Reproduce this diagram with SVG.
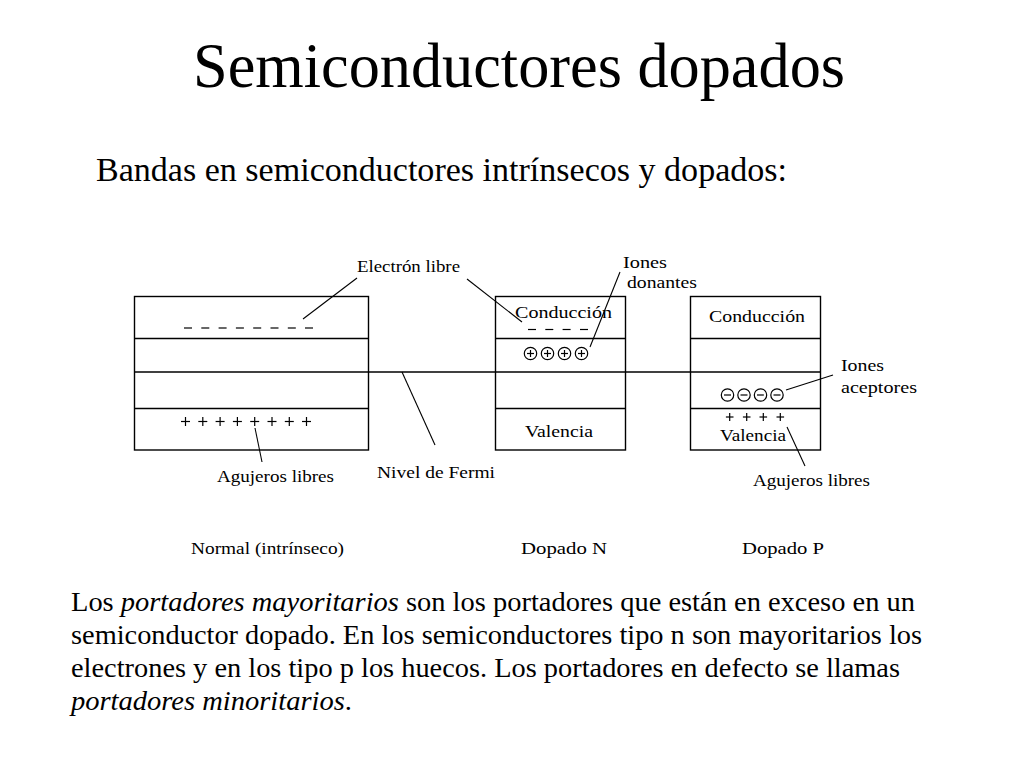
<svg xmlns="http://www.w3.org/2000/svg" width="1024" height="768" viewBox="0 0 1024 768">
<style>
  text { font-family: "Liberation Serif", "Times New Roman", serif; fill: #000; }
  .lbl { font-size: 17px; }
  .box { fill: #fff; stroke: #000; stroke-width: 1.4; }
  .ln { stroke: #000; stroke-width: 1.4; fill: none; }
  .ptr { stroke: #000; stroke-width: 1.1; fill: none; }
  .sym { stroke: #000; stroke-width: 1.2; fill: none; }
</style>
<defs>
  <g id="dash"><line x1="0" y1="0" x2="8" y2="0" class="sym"/></g>
  <g id="plus"><line x1="-4.5" y1="0" x2="4.5" y2="0" class="sym"/><line x1="0" y1="-4.5" x2="0" y2="4.5" class="sym"/></g>
  <g id="splus"><line x1="-3.8" y1="0" x2="3.8" y2="0" class="sym"/><line x1="0" y1="-4" x2="0" y2="4" class="sym"/></g>
  <g id="oplus"><circle r="6.2" class="sym"/><line x1="-3.5" y1="0" x2="3.5" y2="0" class="sym"/><line x1="0" y1="-3.5" x2="0" y2="3.5" class="sym"/></g>
  <g id="ominus"><circle r="6.2" class="sym"/><line x1="-3.5" y1="0" x2="3.5" y2="0" class="sym"/></g>
</defs>
<rect width="1024" height="768" fill="#fff"/>

<text x="193" y="87" font-size="62.6" textLength="652" lengthAdjust="spacingAndGlyphs">Semiconductores dopados</text>
<text x="96" y="181" font-size="34" textLength="691" lengthAdjust="spacingAndGlyphs">Bandas en semiconductores intrínsecos y dopados:</text>

<g id="band-normal">
  <rect class="box" x="134.5" y="296.5" width="234" height="153.5"/>
  <line class="ln" x1="134.5" y1="338.5" x2="368.5" y2="338.5"/>
  <line class="ln" x1="134.5" y1="408.5" x2="368.5" y2="408.5"/>
  <use href="#dash" x="184" y="328"/><use href="#dash" x="201.3" y="328"/><use href="#dash" x="218.6" y="328"/><use href="#dash" x="235.9" y="328"/>
  <use href="#dash" x="253.2" y="328"/><use href="#dash" x="270.5" y="328"/><use href="#dash" x="287.8" y="328"/><use href="#dash" x="305" y="328"/>
  <use href="#plus" x="185.5" y="421.5"/><use href="#plus" x="202.8" y="421.5"/><use href="#plus" x="220.1" y="421.5"/><use href="#plus" x="237.4" y="421.5"/>
  <use href="#plus" x="254.7" y="421.5"/><use href="#plus" x="272" y="421.5"/><use href="#plus" x="289.3" y="421.5"/><use href="#plus" x="306.5" y="421.5"/>
</g>

<g id="band-n">
  <rect class="box" x="495.5" y="296.5" width="130" height="153.5"/>
  <line class="ln" x1="495.5" y1="338.5" x2="625.5" y2="338.5"/>
  <line class="ln" x1="495.5" y1="408.5" x2="625.5" y2="408.5"/>
  <text class="lbl" x="515" y="318" textLength="97" lengthAdjust="spacingAndGlyphs">Conducción</text>
  <use href="#dash" x="528" y="329.5"/><use href="#dash" x="545.3" y="329.5"/><use href="#dash" x="562.6" y="329.5"/><use href="#dash" x="580" y="329.5"/>
  <use href="#oplus" x="530.5" y="353.5"/><use href="#oplus" x="547.5" y="353.5"/><use href="#oplus" x="564.5" y="353.5"/><use href="#oplus" x="581.5" y="353.5"/>
  <text class="lbl" x="525" y="437" textLength="68" lengthAdjust="spacingAndGlyphs">Valencia</text>
</g>

<g id="band-p">
  <rect class="box" x="690.5" y="296.5" width="130" height="153.5"/>
  <line class="ln" x1="690.5" y1="338.5" x2="820.5" y2="338.5"/>
  <line class="ln" x1="690.5" y1="408.5" x2="820.5" y2="408.5"/>
  <text class="lbl" x="709" y="322" textLength="96" lengthAdjust="spacingAndGlyphs">Conducción</text>
  <use href="#ominus" x="727.5" y="395"/><use href="#ominus" x="744" y="395"/><use href="#ominus" x="760.5" y="395"/><use href="#ominus" x="777" y="395"/>
  <use href="#splus" x="729.7" y="417"/><use href="#splus" x="746.7" y="417"/><use href="#splus" x="763.3" y="417"/><use href="#splus" x="780.3" y="417"/>
  <text class="lbl" x="720" y="441" textLength="66" lengthAdjust="spacingAndGlyphs">Valencia</text>
</g>

<g id="fermi-level">
  <line class="ln" x1="134.5" y1="372" x2="820.5" y2="372"/>
</g>

<g id="label-electron"><text class="lbl" x="357" y="272" textLength="103" lengthAdjust="spacingAndGlyphs">Electrón libre</text></g>
<g id="label-donantes">
  <text class="lbl" x="623" y="268" textLength="44" lengthAdjust="spacingAndGlyphs">Iones</text>
  <text class="lbl" x="627" y="288" textLength="70" lengthAdjust="spacingAndGlyphs">donantes</text>
</g>
<g id="label-aceptores">
  <text class="lbl" x="841" y="371" textLength="43" lengthAdjust="spacingAndGlyphs">Iones</text>
  <text class="lbl" x="841" y="393" textLength="76" lengthAdjust="spacingAndGlyphs">aceptores</text>
</g>
<g id="label-agujeros-left"><text class="lbl" x="217" y="482" textLength="117" lengthAdjust="spacingAndGlyphs">Agujeros libres</text></g>
<g id="label-fermi"><text class="lbl" x="377" y="478" textLength="118" lengthAdjust="spacingAndGlyphs">Nivel de Fermi</text></g>
<g id="label-agujeros-p"><text class="lbl" x="753" y="486" textLength="117" lengthAdjust="spacingAndGlyphs">Agujeros libres</text></g>

<g id="caption-normal"><text class="lbl" x="191" y="554" textLength="153" lengthAdjust="spacingAndGlyphs">Normal (intrínseco)</text></g>
<g id="caption-n"><text class="lbl" x="521" y="554" textLength="86" lengthAdjust="spacingAndGlyphs">Dopado N</text></g>
<g id="caption-p"><text class="lbl" x="742" y="554" textLength="82" lengthAdjust="spacingAndGlyphs">Dopado P</text></g>

<g id="connectors">
  <line class="ptr" x1="357" y1="278" x2="303" y2="319"/>
  <line class="ptr" x1="467" y1="279" x2="522" y2="322"/>
  <line class="ptr" x1="620" y1="272" x2="590" y2="347"/>
  <line class="ptr" x1="833" y1="375" x2="786" y2="390"/>
  <line class="ptr" x1="787" y1="427" x2="805" y2="466"/>
  <line class="ptr" x1="255" y1="428" x2="262" y2="462"/>
  <line class="ptr" x1="402" y1="372" x2="435" y2="445"/>
</g>

<g font-size="27">
  <text x="71" y="611" textLength="844" lengthAdjust="spacingAndGlyphs">Los <tspan font-style="italic">portadores mayoritarios</tspan> son los portadores que están en exceso en un</text>
  <text x="71" y="644" textLength="851" lengthAdjust="spacingAndGlyphs">semiconductor dopado. En los semiconductores tipo n son mayoritarios los</text>
  <text x="71" y="677" textLength="829" lengthAdjust="spacingAndGlyphs">electrones y en los tipo p los huecos. Los portadores en defecto se llamas</text>
  <text x="71" y="710" textLength="281" lengthAdjust="spacingAndGlyphs"><tspan font-style="italic">portadores minoritarios</tspan>.</text>
</g>
</svg>
